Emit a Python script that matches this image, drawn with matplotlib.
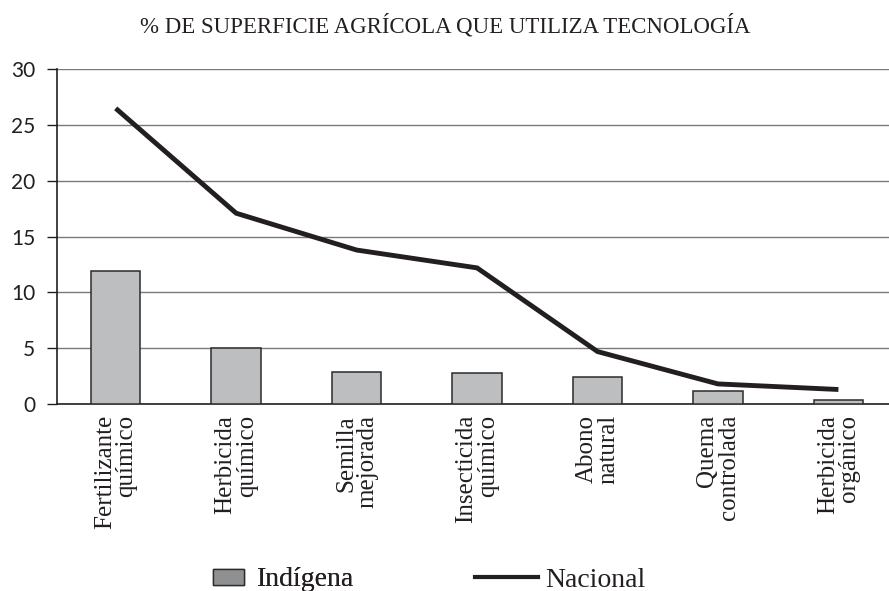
import matplotlib
matplotlib.use("Agg")
import matplotlib.pyplot as plt
from matplotlib.patches import Patch
from matplotlib.lines import Line2D

categories = ["Fertilizante\nquímico", "Herbicida\nquímico", "Semilla\nmejorada",
              "Insecticida\nquímico", "Abono\nnatural", "Quema\ncontrolada",
              "Herbicida\norgánico"]
indigena = [11.9, 5.0, 2.9, 2.8, 2.4, 1.2, 0.4]
nacional = [26.5, 17.1, 13.8, 12.2, 4.7, 1.8, 1.3]
yticks = [0, 5, 10, 15, 20, 25, 30]
title = "% DE SUPERFICIE AGRÍCOLA QUE UTILIZA TECNOLOGÍA"

serif = ["Liberation Serif", "DejaVu Serif"]
sans = ["Lato", "DejaVu Sans"]

W, H = 889, 591
fig = plt.figure(figsize=(W / 100, H / 100), dpi=100)
ax = fig.add_axes([56.7 / W, 1 - 404 / H, 1 - 56.7 / W, (404 - 69.3) / H])

x = list(range(len(categories)))
ax.bar(x, indigena, width=0.41, color="#bdbec0", edgecolor="#2b2b2b",
       linewidth=1.1, zorder=3)
ax.plot(x, nacional, color="#231f20", linewidth=3.5, zorder=4,
        solid_joinstyle="miter", solid_capstyle="butt")

ax.set_xlim(-0.49, 6.42)
ax.set_ylim(0, 30)
ax.set_yticks(yticks)
ax.set_yticklabels([str(v) for v in yticks], family=sans, fontsize=15, color="#231f20")
ax.yaxis.grid(True, color="#7a7a7a", linewidth=1.0, zorder=0)
ax.set_axisbelow(True)
ax.tick_params(axis="y", direction="out", length=7.5, width=1.0, color="#231f20", pad=8)
ax.tick_params(axis="x", length=0, pad=8)
ax.set_xticks(x)
ax.set_xticklabels(categories, rotation=90, family=serif, fontsize=18,
                   color="#231f20", ha="center", va="top", multialignment="right",
                   linespacing=0.95)
for s in ["top", "right"]:
    ax.spines[s].set_visible(False)
ax.spines["left"].set_color("#231f20")
ax.spines["left"].set_linewidth(1.2)
ax.spines["bottom"].set_color("#231f20")
ax.spines["bottom"].set_linewidth(1.2)

fig.text(445 / W, 1 - 32 / H, title, family=serif, fontsize=16.5, color="#231f20",
         ha="center", va="baseline")

h1 = Patch(facecolor="#8f9092", edgecolor="#2b2b2b", linewidth=1.0)
h2 = Line2D([], [], color="#231f20", linewidth=3.0)
leg1 = fig.legend([h1], ["Indígena"], loc="center left",
                  bbox_to_anchor=(213 / W, 1 - 580 / H), frameon=False,
                  prop={"family": serif, "size": 20}, handlelength=1.12,
                  handleheight=0.52, handletextpad=0.45, borderpad=0,
                  borderaxespad=0)
for t in leg1.get_texts():
    t.set_color("#231f20")
leg2 = fig.legend([h2], ["Nacional"], loc="center left",
                  bbox_to_anchor=(475 / W, 1 - 580 / H), frameon=False,
                  prop={"family": serif, "size": 20}, handlelength=2.27,
                  handletextpad=0.25, borderpad=0, borderaxespad=0)
for t in leg2.get_texts():
    t.set_color("#231f20")
fig.add_artist(leg1)

fig.savefig("out.png", dpi=100)
